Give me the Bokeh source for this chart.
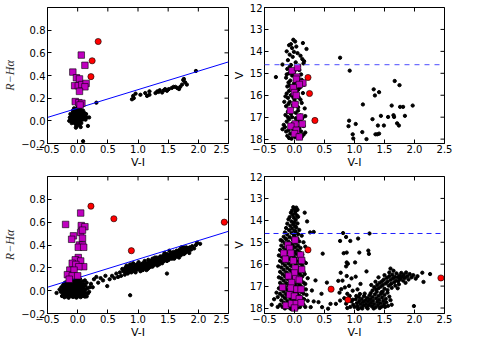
import math
from bokeh.plotting import figure
from bokeh.layouts import gridplot
from bokeh.models import Range1d, FixedTicker, Span
from bokeh.embed import file_html
from bokeh.resources import INLINE

# ---------------- tick values / labels ----------------
x_ticks = [-0.5, 0.0, 0.5, 1.0, 1.5, 2.0, 2.5]
x_tick_labels = ["\u22120.5", "0.0", "0.5", "1.0", "1.5", "2.0", "2.5"]
c_ticks = [-0.2, 0.0, 0.2, 0.4, 0.6, 0.8]
c_tick_labels = ["\u22120.2", "0.0", "0.2", "0.4", "0.6", "0.8"]
v_ticks = [12, 13, 14, 15, 16, 17, 18]
v_tick_labels = ["12", "13", "14", "15", "16", "17", "18"]

# fit line in colour-colour panels and V cut in CMD panels
fit_x = [-0.5, 2.5]
fit_y = [0.03, 0.52]
v_cut = 14.6

# ---------------- top-left: V-I vs R-Ha ----------------
a_black = [
    (-0.13,0.03),(-0.11,0.01),(-0.10,0.05),(-0.09,-0.01),(-0.08,0.03),(-0.08,0.07),(-0.07,0.00),(-0.07,0.04),
    (-0.06,0.02),(-0.06,0.06),(-0.05,-0.02),(-0.05,0.04),(-0.05,0.08),(-0.04,0.01),(-0.04,0.05),(-0.04,0.10),
    (-0.03,0.03),(-0.03,0.06),(-0.03,-0.03),(-0.02,0.02),(-0.02,0.05),(-0.02,0.08),(-0.01,0.00),(-0.01,0.04),
    (-0.01,0.07),(-0.01,0.11),(0.00,0.02),(0.00,0.05),(0.00,-0.02),(0.00,0.09),(0.01,0.03),(0.01,0.06),
    (0.01,0.01),(0.01,0.12),(0.02,0.04),(0.02,0.07),(0.02,-0.01),(0.02,0.10),(0.03,0.02),(0.03,0.05),
    (0.03,0.08),(0.04,0.03),(0.04,0.06),(0.04,0.00),(0.05,0.04),(0.05,0.07),(0.05,0.10),(0.06,0.02),
    (0.06,0.05),(0.07,0.03),(0.07,0.08),(0.08,0.01),(0.08,0.05),(0.09,0.06),(0.10,0.03),(0.11,0.07),
    (0.12,0.04),(0.13,0.01),(0.14,0.06),(-0.12,0.06),(-0.10,-0.02),(-0.06,0.11),(-0.02,-0.05),(0.03,-0.04),
    (0.06,-0.02),(0.09,0.09),(-0.08,0.09),(0.00,0.13),(0.15,0.03),(-0.14,0.00),
    (0.09,-0.18),(0.17,-0.045),(0.19,0.03),(0.31,0.16),(-0.03,-0.06),(0.05,-0.055),
    (0.90,0.19),(0.92,0.22),(0.93,0.20),(0.96,0.24),(1.04,0.23),(1.12,0.245),(1.15,0.22),(1.19,0.26),
    (1.19,0.23),(1.29,0.245),(1.32,0.26),(1.34,0.255),(1.36,0.27),(1.40,0.25),(1.43,0.27),(1.45,0.28),
    (1.48,0.265),(1.51,0.28),(1.56,0.29),(1.59,0.30),(1.62,0.30),(1.65,0.29),(1.68,0.28),(1.70,0.30),
    (1.73,0.32),(1.75,0.36),(1.76,0.37),(1.78,0.34),(1.81,0.32),(1.96,0.44),
]
a_mag_x = [0.06, 0.12, -0.08, -0.02, 0.03, -0.05, 0.01, 0.07, 0.14, 0.12, 0.03, -0.04, 0.02, 0.07, 0.04]
a_mag_y = [0.58, 0.49, 0.43, 0.38, 0.37, 0.31, 0.31, 0.32, 0.33, 0.30, 0.26, 0.17, 0.16, 0.155, 0.14]
a_red_x = [0.34, 0.24, 0.22]
a_red_y = [0.70, 0.53, 0.39]

# ---------------- top-right: V-I vs V ----------------
b_black = [
    (-0.02,13.47),(0.01,13.55),(-0.06,13.67),(-0.09,13.72),(0.14,13.62),(0.03,13.78),(-0.04,13.85),(0.20,13.89),
    (-0.13,14.00),(-0.01,14.02),(0.05,14.08),(-0.08,14.15),(0.10,14.20),(-0.03,14.25),(0.13,14.35),(0.16,14.45),
    (-0.11,14.40),(0.02,14.50),(-0.20,14.60),(-0.06,14.62),(0.07,14.66),(0.15,14.55),(-0.31,15.17),(-0.12,14.80),
    (0.00,14.90),(-0.09,15.00),(0.11,15.05),(-0.04,15.10),(-0.14,15.20),(0.05,15.25),(-0.07,15.33),(0.12,15.30),
    (-0.10,15.42),(-0.01,15.47),(0.16,15.52),(-0.12,15.60),(-0.05,15.70),(0.09,15.65),(-0.09,15.80),(0.03,15.85),
    (-0.13,15.92),(0.14,15.90),(-0.06,16.00),(0.07,16.10),(-0.11,16.12),(0.00,16.20),(-0.08,16.30),(0.12,16.35),
    (-0.03,16.45),(-0.14,16.50),(0.06,16.55),(0.17,16.60),(-0.07,16.65),(-0.11,16.75),(0.02,16.80),(-0.15,16.90),
    (0.10,16.92),(-0.04,17.00),(0.13,17.05),(-0.09,17.10),(0.05,17.15),(-0.13,17.20),(0.00,17.25),(-0.06,17.35),
    (0.15,17.40),(-0.16,17.45),(0.08,17.50),(-0.02,17.55),(-0.10,17.60),(0.11,17.65),(-0.20,17.55),(0.04,17.70),
    (-0.07,17.75),(0.15,17.80),(-0.12,17.85),(0.01,17.90),(0.07,17.95),(-0.05,17.98),(0.18,17.70),(-0.09,17.95),
    (-0.08,14.70),(-0.02,14.95),(0.08,14.85),(-0.13,15.05),(0.02,15.35),(-0.08,15.55),(0.06,15.75),(-0.15,16.05),
    (-0.02,16.10),(0.10,16.20),(-0.10,16.40),(0.03,16.35),(-0.06,16.85),(0.06,16.70),(-0.11,17.00),(0.02,17.05),
    (-0.03,17.30),(0.10,17.20),(-0.14,17.65),(0.06,17.60),(0.12,17.90),(-0.18,17.35),(0.18,16.95),(-0.17,16.30),
    (0.76,14.29),(0.92,14.88),(1.67,15.35),(1.75,15.54),(1.32,15.73),(1.34,16.01),(1.41,15.86),(1.14,16.42),
    (1.62,16.47),(1.76,16.53),(1.81,16.53),(1.97,16.47),(1.44,16.94),(1.56,16.99),(1.30,17.09),(1.02,17.31),
    (0.91,17.16),(0.90,17.41),(1.13,17.68),(0.97,17.78),(0.98,17.97),(1.20,18.00),(1.35,17.78),(1.38,17.78),
    (1.41,17.75),(1.39,17.38),(1.49,17.38),(1.66,16.99),(1.65,16.91),(1.71,17.28),(1.74,17.38),(1.84,16.94),
]
b_mag_x = [-0.04, 0.05, 0.04, 0.03, 0.14, 0.08, -0.02, 0.00, 0.03, 0.01, -0.07, 0.09, 0.01, 0.13, -0.06, 0.03, 0.00, 0.08]
b_mag_y = [14.88, 14.73, 15.17, 15.27, 15.44, 15.51, 15.66, 15.88, 16.01, 16.42, 16.69, 16.99, 17.31, 17.31, 17.41, 17.60, 17.75, 17.90]
b_red_x = [0.225, 0.25, 0.34]
b_red_y = [15.19, 15.92, 17.15]

# ---------------- bottom-left: V-I vs R-Ha ----------------
c_black = [
    (-0.22,-0.058),(-0.15,-0.062),(-0.08,-0.055),(-0.02,-0.061),(0.05,-0.057),(0.12,-0.052),
    (-0.26,-0.047),(-0.18,-0.05),(-0.11,-0.045),(-0.04,-0.052),(0.02,-0.048),(0.09,-0.046),(0.15,-0.05),
    (-0.20,-0.038),(-0.13,-0.042),(-0.06,-0.036),(0.00,-0.041),(0.07,-0.037),
    (-0.24,-0.028),(-0.16,-0.032),(-0.09,-0.027),(-0.03,-0.031),(0.04,-0.026),(0.10,-0.03),(0.17,-0.024),
    (-0.35,-0.02),(-0.19,-0.018),(-0.12,-0.022),(-0.05,-0.017),(0.01,-0.021),(0.06,-0.016),(0.13,-0.02),
    (-0.22,-0.008),(-0.14,-0.012),(-0.07,-0.006),(-0.01,-0.011),(0.03,-0.007),(0.08,-0.01),
    (-0.25,0.002),(-0.17,-0.002),(-0.10,0.003),(-0.04,-0.001),(0.02,0.002),(0.07,0.0),(0.12,0.004),
    (-0.20,0.012),(-0.13,0.008),(-0.06,0.013),(0.00,0.009),(0.05,0.011),(0.10,0.014),
    (-0.23,0.021),(-0.15,0.018),(-0.08,0.023),(-0.02,0.019),(0.04,0.022),(0.09,0.017),(0.16,0.02),
    (-0.18,0.032),(-0.11,0.028),(-0.05,0.033),(0.01,0.029),(0.06,0.031),
    (-0.21,0.041),(-0.14,0.038),(-0.07,0.043),(-0.01,0.039),(0.03,0.042),(0.08,0.037),(0.13,0.04),
    (-0.16,0.052),(-0.09,0.048),(-0.03,0.053),(0.02,0.049),(0.07,0.051),
    (-0.19,0.061),(-0.12,0.058),(-0.06,0.063),(0.00,0.059),(0.05,0.062),(0.11,0.057),
    (-0.15,0.071),(-0.08,0.068),(-0.02,0.073),(0.04,0.069),
    (-0.17,0.082),(-0.10,0.078),(-0.04,0.083),(0.02,0.079),(0.08,0.081),
    (-0.13,0.092),(-0.06,0.088),(0.00,0.093),(-0.11,0.102),(-0.03,0.098),(0.04,0.101),
    (-0.08,0.112),(-0.01,0.108),(-0.05,0.121),(0.02,0.118),(-0.28,-0.01),(-0.30,0.01),(-0.27,0.03),
    (0.19,-0.01),(0.20,0.03),(0.15,0.07),(0.12,0.09),(-0.24,0.05),(-0.21,0.07),
    (0.22,0.06),(0.25,0.03),(0.27,0.10),(0.31,0.12),(0.34,0.07),(0.38,0.11),(0.42,0.09),(0.46,0.13),
    (0.49,0.04),(0.53,0.10),(0.57,0.13),(0.61,0.11),(0.64,0.15),(0.67,0.12),(0.70,0.16),(0.72,0.13),(0.74,0.19),
    (0.76,0.17),(0.78,0.14),(0.79,0.20),(0.80,0.16),(0.81,0.22),(0.82,0.18),(0.83,0.15),(0.84,0.21),(0.85,0.19),
    (0.86,0.17),(0.87,0.23),(0.88,0.20),(0.89,0.16),(0.90,0.18),(0.91,0.21),(0.92,0.24),(0.93,0.19),(0.94,0.17),
    (0.95,0.22),(0.96,0.20),(0.97,0.18),(0.98,0.23),(0.99,0.21),(1.00,0.19),(1.01,0.25),(1.02,0.22),(1.03,0.20),
    (1.04,0.17),(1.05,0.23),(1.06,0.21),(1.07,0.19),(1.08,0.24),(1.09,0.22),(1.10,0.20),(1.11,0.26),(1.12,0.23),
    (1.13,0.21),(1.14,0.18),(1.15,0.24),(1.16,0.22),(1.17,0.27),(1.18,0.20),(1.19,0.25),(1.20,0.23),(1.21,0.21),
    (1.22,0.26),(1.23,0.24),(1.24,0.28),(1.25,0.22),(1.26,0.25),(1.27,0.27),(1.28,0.23),(1.29,0.26),(1.30,0.24),
    (1.31,0.29),(1.32,0.27),(1.33,0.25),(1.34,0.28),(1.35,0.23),(1.36,0.26),(1.37,0.30),(1.38,0.27),(1.39,0.25),
    (1.40,0.29),(1.41,0.27),(1.42,0.31),(1.43,0.26),(1.44,0.28),(1.45,0.30),(1.46,0.27),(1.47,0.29),(1.48,0.32),
    (1.49,0.28),(1.50,0.30),(1.51,0.27),(1.52,0.31),(1.53,0.29),(1.54,0.33),(1.55,0.30),(1.56,0.28),(1.57,0.32),
    (1.58,0.30),(1.59,0.34),(1.60,0.31),(1.61,0.29),(1.62,0.33),(1.63,0.31),(1.64,0.35),(1.65,0.32),(1.66,0.30),
    (1.67,0.34),(1.68,0.32),(1.69,0.36),(1.70,0.33),(1.71,0.31),(1.72,0.35),(1.73,0.33),(1.74,0.37),(1.75,0.34),
    (1.76,0.38),(1.77,0.35),(1.78,0.33),(1.79,0.36),(1.80,0.34),(1.82,0.37),(1.84,0.35),(1.86,0.38),(1.88,0.36),
    (1.90,0.39),(1.93,0.37),(1.96,0.40),(1.98,0.42),(2.03,0.41),
    (0.80,0.19),(0.84,0.16),(0.88,0.22),(0.92,0.18),(0.96,0.16),(1.00,0.22),(1.04,0.20),(1.08,0.18),(1.12,0.20),
    (1.16,0.19),(1.20,0.26),(1.24,0.21),(1.28,0.29),(1.32,0.22),(1.36,0.29),(1.40,0.24),(1.44,0.33),(1.48,0.26),
    (1.52,0.35),(1.56,0.33),(1.60,0.28),(1.64,0.30),(1.68,0.29),(1.72,0.38),(1.76,0.32),(1.80,0.38),(1.85,0.33),
    (0.87,-0.04),(1.48,0.15),
]
c_mag_x = [-0.20, 0.05, 0.06, 0.12, 0.05, 0.08, -0.07, -0.10, 0.08, 0.03, 0.08, 0.01, 0.10, 0.01, -0.04,
           -0.09, 0.05, -0.03, 0.10, 0.02, -0.13, -0.06, -0.17, -0.09, 0.00, -0.14]
c_mag_y = [0.58, 0.68, 0.57, 0.56, 0.51, 0.53, 0.48, 0.45, 0.46, 0.40, 0.40, 0.38, 0.38, 0.29, 0.27,
           0.24, 0.26, 0.23, 0.21, 0.21, 0.18, 0.18, 0.14, 0.13, 0.13, 0.10]
c_red_x = [0.22, 0.60, 0.89, 2.43]
c_red_y = [0.74, 0.63, 0.35, 0.60]

# ---------------- bottom-right: V-I vs V ----------------
d_black = [
    (-0.02,13.40),(0.03,13.42),(0.00,13.47),(0.05,13.52),(-0.04,13.55),(0.02,13.58),(-0.06,13.65),(0.01,13.68),
    (0.17,13.65),(-0.03,13.75),(0.04,13.78),(-0.08,13.85),(-0.01,13.88),(0.06,13.84),(-0.10,13.95),(0.02,13.97),
    (-0.05,14.05),(0.00,14.08),(0.21,14.05),(-0.12,14.15),(-0.02,14.17),(0.05,14.14),(-0.07,14.25),(0.01,14.27),
    (-0.14,14.35),(-0.04,14.37),(0.03,14.33),(-0.09,14.45),(0.00,14.47),(0.08,14.44),(-0.16,14.55),(-0.05,14.57),
    (0.02,14.53),(0.26,14.55),(-0.12,14.65),(-0.01,14.67),(0.06,14.63),(-0.18,14.75),(-0.08,14.77),(0.00,14.73),
    (-0.14,14.85),(-0.03,14.87),(0.05,14.83),(-0.20,14.95),(-0.10,14.97),(-0.01,14.93),(0.08,14.96),
    (-0.16,15.05),(-0.06,15.07),(0.02,15.03),(-0.22,15.15),(-0.12,15.17),(-0.03,15.13),(0.06,15.16),
    (-0.18,15.25),(-0.08,15.27),(0.01,15.23),(0.10,15.26),(-0.24,15.35),(-0.14,15.37),(-0.04,15.33),(0.05,15.36),
    (-0.20,15.45),(-0.10,15.47),(0.00,15.43),(0.09,15.46),(-0.16,15.55),(-0.06,15.57),(0.03,15.53),(0.13,15.56),
    (-0.22,15.65),(-0.12,15.67),(-0.02,15.63),(0.07,15.66),(-0.18,15.75),(-0.08,15.77),(0.01,15.73),(0.11,15.76),
    (-0.24,15.85),(-0.14,15.87),(-0.04,15.83),(0.05,15.86),(0.15,15.84),(-0.20,15.95),(-0.10,15.97),(0.00,15.93),
    (0.09,15.96),(-0.16,16.05),(-0.06,16.07),(0.03,16.03),(0.13,16.06),(-0.22,16.15),(-0.12,16.17),(-0.02,16.13),
    (0.07,16.16),(-0.18,16.25),(-0.08,16.27),(0.01,16.23),(0.11,16.26),(-0.24,16.35),(-0.14,16.37),(-0.04,16.33),
    (0.05,16.36),(0.15,16.34),(-0.20,16.45),(-0.10,16.47),(0.00,16.43),(0.09,16.46),(-0.16,16.55),(-0.06,16.57),
    (0.03,16.53),(0.13,16.56),(-0.22,16.65),(-0.12,16.67),(-0.02,16.63),(0.07,16.66),(-0.18,16.75),(-0.08,16.77),
    (0.01,16.73),(0.11,16.76),(-0.24,16.85),(-0.14,16.87),(-0.04,16.83),(0.05,16.86),(0.15,16.84),(-0.20,16.95),
    (-0.10,16.97),(0.00,16.93),(0.09,16.96),(-0.16,17.05),(-0.06,17.07),(0.03,17.03),(0.13,17.06),(-0.26,17.10),
    (-0.22,17.15),(-0.12,17.17),(-0.02,17.13),(0.07,17.16),(-0.18,17.25),(-0.08,17.27),(0.01,17.23),(0.11,17.26),
    (-0.24,17.35),(-0.14,17.37),(-0.04,17.33),(0.05,17.36),(0.15,17.34),(-0.20,17.45),(-0.10,17.47),(0.00,17.43),
    (0.09,17.46),(-0.16,17.55),(-0.06,17.57),(0.03,17.53),(0.13,17.56),(-0.22,17.65),(-0.12,17.67),(-0.02,17.63),
    (0.07,17.66),(-0.18,17.75),(-0.08,17.77),(0.01,17.73),(0.11,17.76),(-0.24,17.85),(-0.14,17.87),(-0.04,17.83),
    (0.05,17.86),(0.15,17.84),(-0.20,17.95),(-0.10,17.97),(0.00,17.93),(0.09,17.96),(-0.16,18.02),(-0.06,18.04),
    (0.04,18.01),(0.18,17.95),(-0.34,17.60),(-0.38,17.85),(-0.30,17.30),(-0.28,17.95),(0.20,17.40),(0.18,16.90),
    (-0.27,16.10),(-0.26,16.60),(-0.28,17.50),(0.18,15.20),(0.19,15.95),(0.17,16.45),(0.19,17.15),(0.16,17.60),
    (-0.26,15.60),(-0.23,14.90),(0.12,14.70),(0.15,15.00),
    (0.32,14.53),(0.47,15.52),(0.22,16.64),(0.35,16.74),(0.54,16.84),(0.22,17.67),(0.32,17.70),(0.40,17.73),
    (0.27,17.96),(0.46,17.96),(0.56,18.03),(0.60,17.81),(0.69,17.81),(0.76,17.66),(0.29,17.20),(0.45,17.35),
    (0.81,14.58),(0.76,14.94),(0.86,14.76),(0.93,14.94),(1.06,14.83),(1.25,14.60),(0.82,15.50),(0.87,15.47),
    (1.08,15.47),(1.24,15.53),(1.23,15.38),(0.87,15.92),(0.89,15.98),(0.86,16.10),(1.01,15.92),(1.20,16.33),
    (0.77,16.39),(0.87,16.54),(0.73,16.76),(0.91,16.99),(0.84,17.06),(0.78,17.14),(0.97,17.21),(1.02,16.57),
    (0.80,16.75),(0.95,16.65),(1.10,16.90),(0.88,17.35),(0.75,17.30),(1.05,17.15),(0.92,17.45),(0.83,17.55),
    (0.90,17.55),(0.95,17.70),(0.98,17.85),(1.00,17.95),(1.02,17.60),(1.04,17.78),(1.05,17.92),(1.07,17.50),
    (1.08,17.68),(1.10,17.82),(1.11,17.98),(1.12,17.58),(1.14,17.72),(1.15,17.88),(1.16,17.45),(1.18,17.65),
    (1.19,17.80),(1.20,17.95),(1.21,17.55),(1.23,17.70),(1.24,17.86),(1.25,17.42),(1.26,17.60),(1.28,17.76),
    (1.29,17.92),(1.30,17.50),(1.31,17.66),(1.33,17.82),(1.34,17.38),(1.35,17.97),(1.36,17.56),(1.38,17.72),
    (1.39,17.88),(1.40,17.45),(1.41,17.62),(1.43,17.78),(1.44,17.35),(1.45,17.94),(1.46,17.52),(1.48,17.68),
    (1.49,17.84),(1.50,17.40),(1.52,17.58),(1.53,17.74),(1.55,17.30),(1.56,17.90),(1.58,17.48),(1.60,17.64),
    (0.93,17.95),(0.97,17.62),(1.03,17.45),(1.09,17.36),(1.13,18.02),(1.22,18.02),(1.32,18.02),(1.42,18.00),
    (1.27,17.32),(1.17,17.34),(0.86,17.80),(0.88,18.00),(1.06,18.04),(1.37,17.26),(1.47,17.25),(1.51,17.95),
    (1.62,17.85),
    (1.30,17.20),(1.33,17.05),(1.36,17.15),(1.38,16.95),(1.40,17.10),(1.42,16.85),(1.44,17.02),(1.46,16.78),
    (1.47,16.95),(1.49,16.70),(1.50,17.12),(1.52,16.88),(1.54,16.62),(1.55,16.80),(1.57,16.98),(1.58,16.55),
    (1.60,16.72),(1.61,16.90),(1.63,16.48),(1.64,16.65),(1.66,16.83),(1.67,16.58),(1.69,16.75),(1.70,16.42),
    (1.72,16.60),(1.73,16.78),(1.75,16.52),(1.76,16.68),(1.78,16.40),(1.79,16.58),(1.81,16.75),(1.82,16.48),
    (1.84,16.62),(1.86,16.38),(1.88,16.55),(1.90,16.70),(1.92,16.45),(1.95,16.60),(1.98,16.50),(1.55,17.18),
    (1.62,17.08),(1.68,16.98),(1.74,16.92),(1.45,17.28),(1.58,16.38),(1.65,16.30),(1.50,16.50),(1.40,16.60),
    (1.35,16.80),(1.72,17.10),(1.85,16.85),(1.28,16.95),(1.60,16.20),
    (2.13,16.39),(2.02,16.66),(2.15,16.81),(2.26,16.45),(1.99,17.91),(2.05,16.55),
]
d_mag_x = [0.01, -0.11, -0.08, -0.18, -0.06, -0.15, -0.02, 0.10, 0.12, 0.01, 0.12, 0.00, -0.10, 0.02, 0.08,
           -0.05, -0.20, -0.06, 0.04, 0.11, -0.08, 0.00, 0.08, -0.14, -0.05, 0.03, 0.11, 0.00]
d_mag_y = [14.90, 15.13, 15.28, 15.50, 15.50, 15.77, 15.84, 15.58, 15.83, 16.18, 16.24, 16.40, 16.54, 16.66, 16.72,
           16.84, 17.06, 17.09, 17.14, 17.14, 17.40, 17.46, 17.58, 17.88, 17.80, 17.80, 17.76, 18.00]
d_red_x = [0.225, 0.61, 0.89, 2.44]
d_red_y = [15.35, 17.14, 17.63, 16.63]

MAG = "#bf00bf"
FONT = "DejaVu Sans"


def make(width, height, yr, yticks, ylabels, ylabel, yserif, bl, br, bt, bb):
    p = figure(width=width, height=height, x_range=Range1d(-0.5, 2.5), y_range=Range1d(*yr),
               output_backend="svg", toolbar_location=None,
               min_border_left=bl, min_border_right=br, min_border_top=bt, min_border_bottom=bb)
    p.grid.visible = False
    p.outline_line_color = "black"
    p.outline_line_width = 1
    p.background_fill_color = "white"
    p.border_fill_color = "white"
    p.xaxis.ticker = FixedTicker(ticks=x_ticks)
    p.xaxis.major_label_overrides = dict(zip(x_ticks, x_tick_labels))
    p.xaxis.axis_label = "V-I"
    p.yaxis.ticker = FixedTicker(ticks=yticks)
    p.yaxis.major_label_overrides = dict(zip(yticks, ylabels))
    p.yaxis.axis_label = ylabel
    for ax in list(p.xaxis) + list(p.yaxis):
        ax.major_tick_in = 4
        ax.major_tick_out = 0
        ax.minor_tick_line_color = None
        ax.major_tick_line_color = "black"
        ax.axis_line_color = "black"
        ax.major_label_text_font = FONT
        ax.major_label_text_font_size = "10px"
        ax.major_label_text_color = "black"
        ax.major_label_standoff = 2
        ax.axis_label_standoff = 1
        ax.axis_label_text_font = FONT
        ax.axis_label_text_font_size = "11px"
        ax.axis_label_text_font_style = "normal"
        ax.axis_label_text_color = "black"
    p.xaxis.major_label_standoff = 1
    p.xaxis.axis_label_standoff = 0
    if yserif:
        p.yaxis.axis_label_text_font = "Liberation Serif"
        p.yaxis.axis_label_text_font_style = "italic"
        p.yaxis.axis_label_text_font_size = "12px"
        p.yaxis.axis_label_text_color = "#333333"
    # mirrored inward tick marks on the top and right frame edges (clipped to the frame)
    p.scatter(x_ticks, [yr[1]] * len(x_ticks), marker="dash", angle=math.pi / 2, size=8,
              line_color="black", line_width=1)
    p.scatter([2.5] * len(yticks), yticks, marker="dash", size=8, line_color="black", line_width=1)
    return p


def dots(p, pts):
    p.scatter([q[0] for q in pts], [q[1] for q in pts], size=3.3, color="black")


def mags(p, xs, ys):
    p.scatter(xs, ys, marker="square", size=6.5, fill_color=MAG, line_color="black", line_width=0.6)


def reds(p, xs, ys):
    p.scatter(xs, ys, marker="circle", size=6.2, fill_color="red", line_color="black", line_width=0.6)


# page has no body margin in Bokeh's file template: frames at x 47..228 / 264..444
W1, W2 = 229, 231
H1, H2 = 171, 170

p1 = make(W1, H1, (-0.2, 1.0), c_ticks, c_tick_labels, "R\u2212H\u03b1", True, 47, 1, 7, 26)
dots(p1, a_black)
p1.line(fit_x, fit_y, line_color="blue", line_width=1)
mags(p1, a_mag_x, a_mag_y)
reds(p1, a_red_x, a_red_y)

p2 = make(W2, H1, (18.2, 12), v_ticks, v_tick_labels, "V", False, 35, 16, 7, 26)
dots(p2, b_black)
mags(p2, b_mag_x, b_mag_y)
reds(p2, b_red_x, b_red_y)
p2.add_layout(Span(location=v_cut, dimension="width", line_color="#6f6fff", line_dash="5 5", line_width=1.2))

p3 = make(W1, H2, (-0.2, 1.0), c_ticks, c_tick_labels, "R\u2212H\u03b1", True, 47, 1, 5, 26)
dots(p3, c_black)
p3.line(fit_x, fit_y, line_color="blue", line_width=1)
mags(p3, c_mag_x, c_mag_y)
reds(p3, c_red_x, c_red_y)

p4 = make(W2, H2, (18.25, 12), v_ticks, v_tick_labels, "V", False, 35, 16, 5, 26)
dots(p4, d_black)
mags(p4, d_mag_x, d_mag_y)
reds(p4, d_red_x, d_red_y)
p4.add_layout(Span(location=v_cut, dimension="width", line_color="#2020ff", line_dash="5 4", line_width=1))

grid = gridplot([[p1, p2], [p3, p4]], toolbar_location=None)

open("out.html", "w").write(file_html(grid, INLINE))
